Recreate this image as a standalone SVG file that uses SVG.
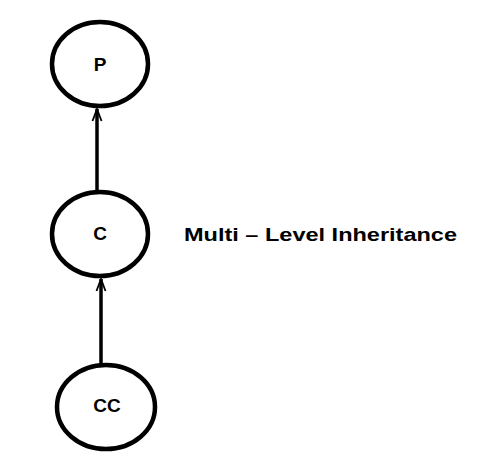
<svg xmlns="http://www.w3.org/2000/svg" width="478" height="475" viewBox="0 0 478 475">
<defs>
<marker id="arr" markerWidth="14" markerHeight="12" refX="13" refY="6" orient="auto" markerUnits="userSpaceOnUse" viewBox="0 0 14 12">
<path d="M1,1.5 L13,6 L1,10.5" fill="none" stroke="#000" stroke-width="1.8"/>
</marker>
<style>
.node{fill:#fff;stroke:#000;stroke-width:4.5}
.lbl{font-family:"Liberation Sans",Arial,sans-serif;font-weight:bold;font-size:19px;text-anchor:middle;dominant-baseline:central;fill:#000}
.edge{stroke:#000;stroke-width:3.5;fill:none}
</style>
</defs>
<rect width="478" height="475" fill="#fff"/>
<g id="P">
<ellipse class="node" cx="100" cy="64" rx="48" ry="42"/>
<text class="lbl" x="100" y="64">P</text>
</g>
<g id="C">
<ellipse class="node" cx="100" cy="234" rx="48" ry="42"/>
<text class="lbl" x="100" y="233">C</text>
</g>
<g id="CC">
<ellipse class="node" cx="106" cy="407" rx="49" ry="42"/>
<text class="lbl" x="107" y="405">CC</text>
</g>
<g id="connectors">
<line class="edge" x1="97" y1="191" x2="97" y2="109" marker-end="url(#arr)"/>
<line class="edge" x1="101" y1="364" x2="101" y2="279" marker-end="url(#arr)"/>
</g>
<text x="184" y="241" font-family="Liberation Sans,Arial,sans-serif" font-weight="bold" font-size="19" textLength="273" lengthAdjust="spacingAndGlyphs" fill="#000">Multi – Level Inheritance</text>
</svg>
